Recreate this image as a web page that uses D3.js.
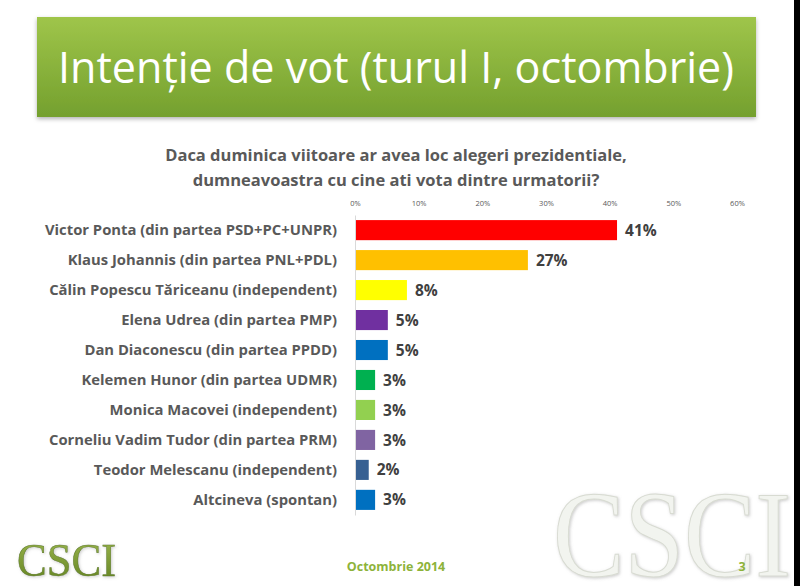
<!DOCTYPE html>
<html>
<head>
<meta charset="utf-8">
<script src="https://cdn.jsdelivr.net/npm/d3@7"></script>
<style>
  body { margin: 0; background: #fff; }
  svg { display: block; }
</style>
</head>
<body>
<div id="chart"></div>
<script>
var candidates = [
  "Victor Ponta (din partea PSD+PC+UNPR)",
  "Klaus Johannis (din partea PNL+PDL)",
  "Călin Popescu Tăriceanu (independent)",
  "Elena Udrea (din partea PMP)",
  "Dan Diaconescu (din partea PPDD)",
  "Kelemen Hunor (din partea UDMR)",
  "Monica Macovei (independent)",
  "Corneliu Vadim Tudor (din partea PRM)",
  "Teodor Melescanu (independent)",
  "Altcineva (spontan)"
];
var votes = [41, 27, 8, 5, 5, 3, 3, 3, 2, 3];
var barColors = ["#ff0000", "#ffc000", "#ffff00", "#7030a0", "#0070c0",
  "#00b050", "#92d050", "#8064a2", "#376092", "#0070c0"];
var ticks = [0, 10, 20, 30, 40, 50, 60];

var W = 800, H = 586;
var svg = d3.select("#chart").append("svg")
  .attr("width", W)
  .attr("height", H);

var defs = svg.append("defs");
var grad = defs.append("linearGradient")
  .attr("id", "boxGrad")
  .attr("x1", 0).attr("y1", 0).attr("x2", 0).attr("y2", 1);
grad.append("stop").attr("offset", "0%").attr("stop-color", "#9fc54a");
grad.append("stop").attr("offset", "100%").attr("stop-color", "#74a02e");

var shadow = defs.append("filter").attr("id", "shadow")
  .attr("x", "-5%").attr("y", "-10%").attr("width", "110%").attr("height", "130%");
shadow.append("feDropShadow")
  .attr("dx", 0).attr("dy", 2).attr("stdDeviation", 2)
  .attr("flood-color", "#000").attr("flood-opacity", 0.3);

var soft = defs.append("filter").attr("id", "soft")
  .attr("x", "-5%").attr("y", "-10%").attr("width", "110%").attr("height", "120%");
soft.append("feDropShadow")
  .attr("dx", 1).attr("dy", 1).attr("stdDeviation", 1.5)
  .attr("flood-color", "#9a9a9a").attr("flood-opacity", 0.5);

var logoGrad = defs.append("linearGradient")
  .attr("id", "logoGrad")
  .attr("x1", 0).attr("y1", 0).attr("x2", 0).attr("y2", 1);
logoGrad.append("stop").attr("offset", "0%").attr("stop-color", "#9db850");
logoGrad.append("stop").attr("offset", "100%").attr("stop-color", "#5f7f1f");

// black strip at the right edge
svg.append("rect")
  .attr("x", 794).attr("y", 0).attr("width", 6).attr("height", H)
  .attr("fill", "#000");

// title box
svg.append("rect")
  .attr("x", 37).attr("y", 17).attr("width", 719).attr("height", 100)
  .attr("fill", "url(#boxGrad)")
  .attr("filter", "url(#shadow)");

svg.append("text")
  .attr("x", 396).attr("y", 83)
  .attr("text-anchor", "middle")
  .attr("font-family", "Open Sans, sans-serif")
  .attr("font-size", 44)
  .attr("fill", "#fff")
  .attr("textLength", 676)
  .attr("lengthAdjust", "spacingAndGlyphs")
  .text("Intenție de vot (turul I, octombrie)");

// question
var q = svg.append("text")
  .attr("text-anchor", "middle")
  .attr("font-family", "Open Sans, sans-serif")
  .attr("font-weight", "bold")
  .attr("font-size", 16.5)
  .attr("fill", "#595959");
q.append("tspan").attr("x", 396).attr("y", 161)
  .text("Daca duminica viitoare ar avea loc alegeri prezidentiale,");
q.append("tspan").attr("x", 396).attr("y", 186)
  .text("dumneavoastra cu cine ati vota dintre urmatorii?");

// scales
var x = d3.scaleLinear().domain([0, 60]).range([355, 737]);
var y = d3.scaleBand().domain(candidates).range([215, 515]).paddingInner(0.33).paddingOuter(0.17);

// tick labels on top
var xAxis = svg.append("g")
  .attr("transform", "translate(0,209)")
  .call(d3.axisTop(x).tickValues(ticks).tickSize(0).tickFormat(function (d) { return d + "%"; }));
xAxis.select(".domain").remove();
xAxis.selectAll("text")
  .attr("font-family", "Open Sans, sans-serif")
  .attr("font-size", 7.5)
  .attr("fill", "#595959");

// category axis
var yAxis = svg.append("g")
  .attr("transform", "translate(355,0)")
  .call(d3.axisLeft(y).tickSize(0).tickPadding(18));
yAxis.select(".domain").attr("stroke", "#d9d9d9");
yAxis.selectAll("text")
  .attr("font-family", "Open Sans, sans-serif")
  .attr("font-weight", "bold")
  .attr("font-size", 14.8)
  .attr("fill", "#595959");

// bars
svg.selectAll(".bar")
  .data(votes)
  .enter().append("rect")
  .attr("class", "bar")
  .attr("x", x(0) + 1)
  .attr("y", function (d, i) { return y(candidates[i]); })
  .attr("width", function (d) { return x(d) - x(0); })
  .attr("height", y.bandwidth())
  .attr("fill", function (d, i) { return barColors[i]; });

svg.selectAll(".val")
  .data(votes)
  .enter().append("text")
  .attr("class", "val")
  .attr("x", function (d) { return x(d) + 9; })
  .attr("y", function (d, i) { return y(candidates[i]) + y.bandwidth() / 2; })
  .attr("dy", "0.36em")
  .attr("font-family", "Open Sans, sans-serif")
  .attr("font-weight", "bold")
  .attr("font-size", 15.5)
  .attr("fill", "#404040")
  .text(function (d) { return d + "%"; });

// watermark logo
svg.append("text")
  .attr("x", 553).attr("y", 576)
  .attr("font-family", "Liberation Serif, serif")
  .attr("font-size", 122)
  .attr("fill", "#f2f4ef")
  .attr("stroke", "#d8dbd2")
  .attr("stroke-width", 1)
  .attr("filter", "url(#soft)")
  .attr("textLength", 238)
  .attr("lengthAdjust", "spacingAndGlyphs")
  .text("CSCI");

// footer
svg.append("text")
  .attr("x", 17).attr("y", 576)
  .attr("font-family", "Liberation Serif, serif")
  .attr("font-size", 46)
  .attr("fill", "url(#logoGrad)")
  .attr("stroke", "#5d7a20")
  .attr("stroke-width", 0.5)
  .attr("filter", "url(#soft)")
  .attr("textLength", 99)
  .attr("lengthAdjust", "spacingAndGlyphs")
  .text("CSCI");

svg.append("text")
  .attr("x", 396).attr("y", 571)
  .attr("text-anchor", "middle")
  .attr("font-family", "Open Sans, sans-serif")
  .attr("font-weight", "bold")
  .attr("font-size", 12.5)
  .attr("fill", "#8db33a")
  .text("Octombrie 2014");

svg.append("text")
  .attr("x", 742).attr("y", 571)
  .attr("text-anchor", "middle")
  .attr("font-family", "Open Sans, sans-serif")
  .attr("font-weight", "bold")
  .attr("font-size", 12.5)
  .attr("fill", "#8db33a")
  .text("3");
</script>
</body>
</html>
